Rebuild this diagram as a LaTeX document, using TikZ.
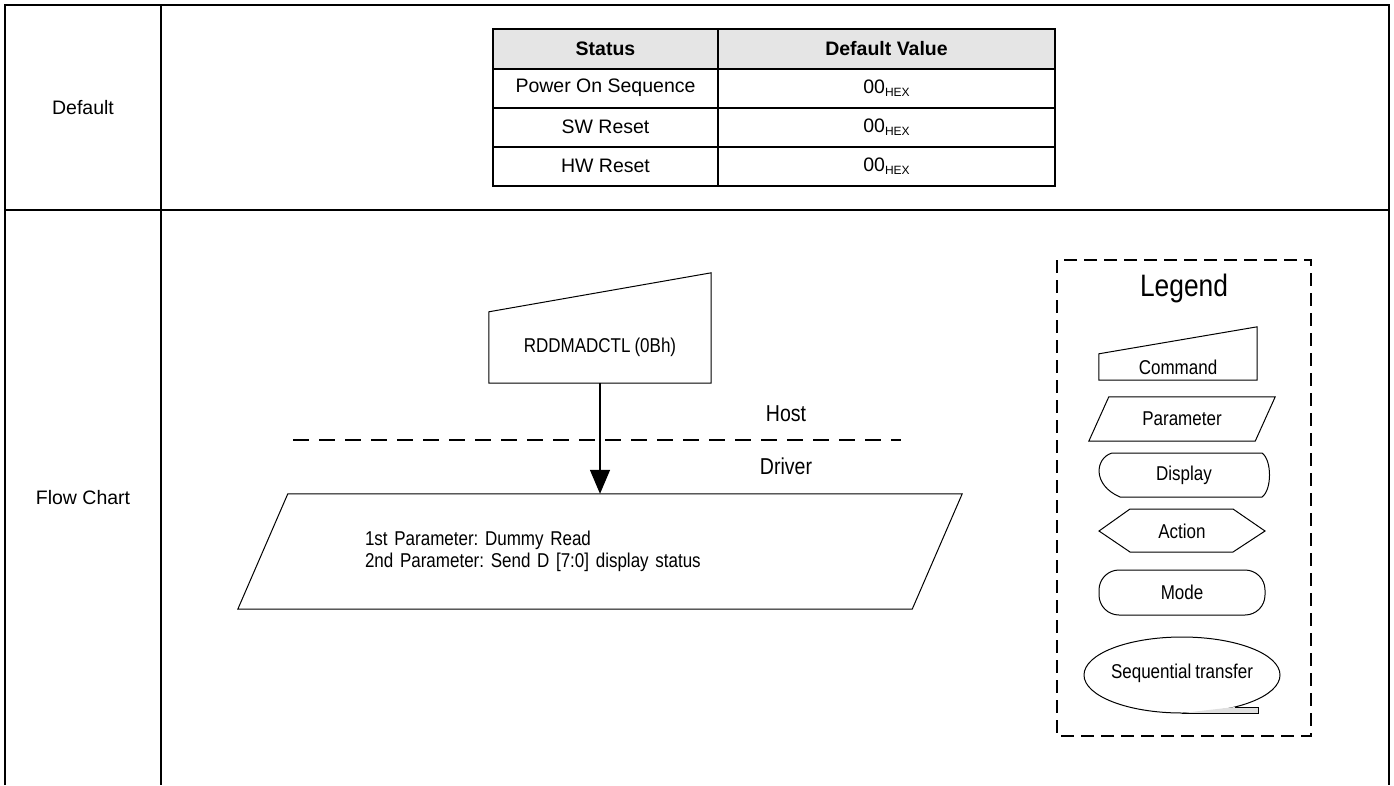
\documentclass[tikz,border=0pt]{standalone}
\usepackage{fontspec}
\setmainfont{Liberation Sans}
\newfontfamily\narrowfont{Liberation Sans}[FakeStretch=0.85,WordSpace=0.85]
\usetikzlibrary{arrows.meta}
\newcommand{\hexval}{00\raisebox{-0.3ex}{\fontsize{12}{12}\selectfont HEX}}
\frenchspacing

\begin{document}
\begin{tikzpicture}[x=1pt,y=-1pt,
    gridline/.style={line width=2.2pt},
    cellline/.style={line width=2pt},
    tabtext/.style={font=\fontsize{19.5}{23}\selectfont, inner sep=0pt},
    tabhead/.style={font=\fontsize{19.5}{23}\selectfont\bfseries, inner sep=0pt},
    flowtext/.style={font=\narrowfont\fontsize{20}{22}\selectfont, inner sep=0pt},
    outline/.style={line width=1pt},
    flowarrow/.style={line width=1.4pt, -{Triangle[length=24pt,width=20pt]}},
    hostline/.style={line width=1.3pt, dash pattern=on 16pt off 10pt},
    legendbox/.style={line width=1.8pt, dash pattern=on 13pt off 7pt}]
  \useasboundingbox (0,0) rectangle (1394,785);

  % outer frame
  \draw[gridline] (5,785) -- (5,5) -- (1389,5) -- (1389,785);
  \draw[gridline] (161,5) -- (161,785);
  \draw[gridline] (5,210) -- (1389,210);
  \node[tabtext] (ldefault) at (83,108) {Default};
  \node[tabtext] (lflow) at (83,498) {Flow Chart};

  % default values
  \fill[gray!20] (493,29) rectangle (1055,69);
  \draw[cellline] (493,29) rectangle (1055,186);
  \draw[cellline] (718,29) -- (718,186);
  \foreach \y in {69,108,147}
    \draw[cellline] (493,\y) -- (1055,\y);
  \node[tabhead] (hstatus) at (605.5,49) {Status};
  \node[tabhead] (hvalue) at (886.5,49) {Default Value};
  \foreach \name/\txt [count=\i] in {pwr/Power On Sequence, swr/SW Reset, hwr/HW Reset} {
    \node[tabtext] (\name) at (605.5,49+39*\i) {\txt};
    \node[tabtext] (\name val) at (886.5,49+39*\i) {\hexval};
  }

  % flow chart
  \node[flowtext, minimum width=222pt, minimum height=71pt] (cmd) at (600,347.5) {RDDMADCTL (0Bh)};
  \draw[outline] (cmd.south west) -- (cmd.south east) -- ([yshift=39pt]cmd.north east) -- (cmd.north west) -- cycle;
  \node[flowtext, minimum width=674pt, minimum height=115pt, text width=470pt, align=left] (param) at (600,551.5)
    {\raisebox{6pt}{\parbox{470pt}{1st Parameter: Dummy Read\\2nd Parameter: Send D [7:0] display status}}};
  \draw[outline] ([xshift=25pt]param.north west) -- ([xshift=25pt]param.north east)
    -- ([xshift=-25pt]param.south east) -- ([xshift=-25pt]param.south west) -- cycle;
  \draw[flowarrow] (cmd.south) -- (param.north);
  \draw[hostline] (293,440) -- (901,440);
  \node[flowtext, font=\narrowfont\fontsize{23}{26}\selectfont] (host) at (786,414) {Host};
  \node[flowtext, font=\narrowfont\fontsize{23}{26}\selectfont] (driver) at (786,466) {Driver};

  % legend
  \draw[legendbox] (1057,260) rectangle (1311,736);
  \node[flowtext, font=\narrowfont\fontsize{31}{34}\selectfont] (legend) at (1184,288) {Legend};
  \node[flowtext, minimum width=158pt, minimum height=26pt] (lgcmd) at (1178,367) {Command};
  \draw[outline] (lgcmd.south west) -- (lgcmd.south east) -- ([yshift=27pt]lgcmd.north east) -- (lgcmd.north west) -- cycle;
  \node[flowtext, minimum width=166pt, minimum height=44pt] (lgpar) at (1182,419) {Parameter};
  \draw[outline] ([xshift=10pt]lgpar.north west) -- ([xshift=10pt]lgpar.north east)
    -- ([xshift=-10pt]lgpar.south east) -- ([xshift=-10pt]lgpar.south west) -- cycle;
  \node[flowtext] (lgdisp) at (1184,475) {Display};
  \draw[outline] (1112,453) -- (1262,453) .. controls (1272,460) and (1272,490) .. (1262,497)
    -- (1120,497) .. controls (1092,485) and (1095,458) .. (1112,453);
  \node[flowtext] (lgact) at (1182,531) {Action};
  \draw[outline] (1099,531) -- (1130,509) -- (1233,509) -- (1265,531) -- (1233,552) -- (1130,552) -- cycle;
  \node[flowtext, draw, outline, rounded corners=20pt, minimum width=166pt, minimum height=45pt] (lgmode) at (1182,592.5) {Mode};
  \node[flowtext] (lgseq) at (1182,673) {Sequential transfer};
  \draw[outline] (1182,675) ellipse [x radius=98pt, y radius=38pt];
  \filldraw[outline, fill=gray!25] (1235,707) -- (1258,707) -- (1258,713) -- (1182,713);
\end{tikzpicture}
\end{document}
